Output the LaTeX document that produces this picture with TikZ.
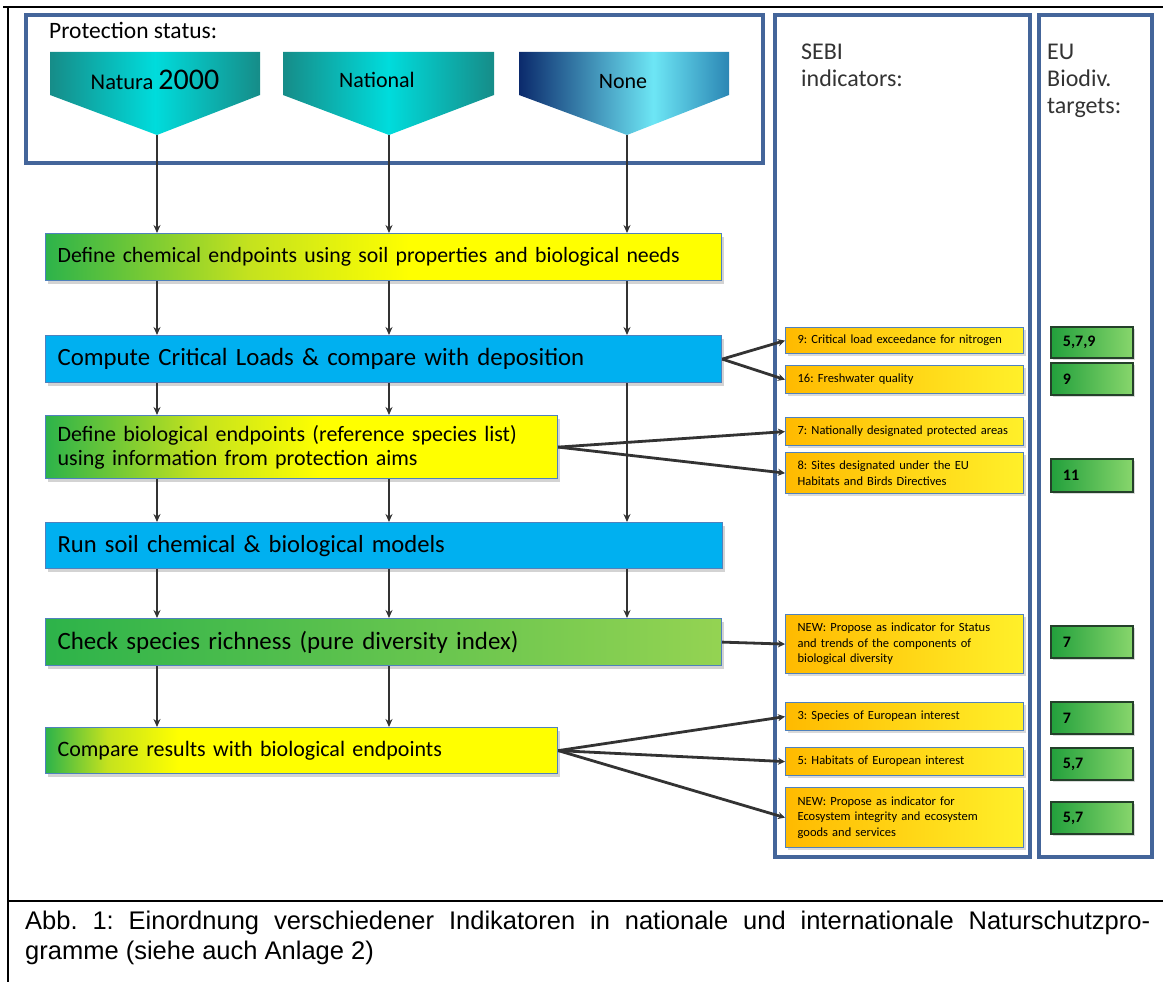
\documentclass[tikz,border=0pt]{standalone}
\usepackage{fontspec}
\setmainfont{Carlito}
\newfontfamily\capfont{Liberation Sans}
\usepackage{tikz}
\usetikzlibrary{calc,arrows.meta,shadows}
\frenchspacing

\definecolor{panelblue}{HTML}{44659A}
\definecolor{boxedge}{HTML}{4F81BD}
\definecolor{flowblue}{HTML}{00B0F0}
\definecolor{leafgreen}{HTML}{2DB34A}
\definecolor{limegreen}{HTML}{C4E21E}
\definecolor{palegreen}{HTML}{94D352}
\definecolor{linegray}{HTML}{333333}
\definecolor{goldleft}{HTML}{FFBA00}
\definecolor{goldright}{HTML}{FFF02A}
\definecolor{euleft}{HTML}{22A03C}
\definecolor{euright}{HTML}{88D66C}
\definecolor{euedge}{HTML}{24402A}
\definecolor{tealdark}{HTML}{168C88}
\definecolor{tealbright}{HTML}{00DCDC}
\definecolor{navyblue}{HTML}{0B2A6C}
\definecolor{skycyan}{HTML}{6DE6F5}
\definecolor{noneright}{HTML}{2B86B4}
\definecolor{headgray}{HTML}{333333}

\pgfdeclarehorizontalshading{gya}{100bp}{color(0bp)=(leafgreen); color(25bp)=(leafgreen); color(40bp)=(limegreen); color(52bp)=(yellow); color(100bp)=(yellow)}
\pgfdeclarehorizontalshading{gyb}{100bp}{color(0bp)=(leafgreen); color(25bp)=(leafgreen); color(31bp)=(limegreen); color(38bp)=(yellow); color(100bp)=(yellow)}
\pgfdeclarehorizontalshading{nonegrad}{100bp}{color(0bp)=(navyblue); color(25bp)=(navyblue); color(57bp)=(skycyan); color(75bp)=(noneright); color(100bp)=(noneright)}

\begin{document}
\begin{tikzpicture}[x=1pt,y=-1pt,
    panel/.style={draw=panelblue,line width=3.2pt},
    frameline/.style={draw=black,line width=1.8pt},
    flowbox/.style={draw=boxedge,line width=1.2pt,anchor=north west,inner xsep=12pt,align=left,
      drop shadow={shadow xshift=2.5pt,shadow yshift=-3pt,opacity=0.35}},
    sebibox/.style={draw=boxedge,line width=1.2pt,left color=goldleft,right color=goldright,
      anchor=north west,text width=214pt,inner xsep=12pt,align=left,
      font=\fontsize{12.5}{15.5}\selectfont,drop shadow={shadow xshift=2pt,shadow yshift=-2.5pt,opacity=0.3}},
    eubox/.style={draw=euedge,line width=1.8pt,left color=euleft,right color=euright,
      anchor=north west,text width=58pt,inner xsep=12pt,align=left,
      font=\bfseries\fontsize{16}{18}\selectfont,drop shadow={shadow xshift=2pt,shadow yshift=-2.5pt,opacity=0.3}},
    flow/.style={draw=linegray,line width=1.8pt,-{Stealth[length=8pt,width=7pt]}},
    link/.style={draw=linegray,line width=2.8pt,-{Stealth[length=7pt,width=7pt]}}]
  \useasboundingbox (0,0) rectangle (1166,982);

  % 外枠
  \draw[frameline] (3,7) -- (1163,7);
  \draw[frameline] (8,7) -- (8,982);
  \draw[frameline] (8,901) -- (1163,901);

  % 保護区分
  \draw[panel] (26,15) rectangle (763,163);
  \node[anchor=west,inner sep=0pt,font=\fontsize{23.5}{27}\selectfont] (prot) at (49,30) {Protection status:};
  \shade[left color=tealdark,right color=tealdark,middle color=tealbright]
    (50,52) -- (260,52) -- (260,95) -- (157,135) -- (50,95) -- cycle;
  \coordinate (tipa) at (157,135);
  \node[font=\fontsize{22.5}{26}\selectfont] (natura) at (155,80) {Natura {\fontsize{30}{32}\selectfont 2000}};
  \shade[left color=tealdark,right color=tealdark,middle color=tealbright]
    (283,52) -- (494,52) -- (494,95) -- (389,135) -- (283,95) -- cycle;
  \coordinate (tipb) at (389,135);
  \node[font=\fontsize{22}{26}\selectfont] (national) at (377,80) {National};
  \shade[shading=nonegrad]
    (519,52) -- (729,52) -- (729,95) -- (627,135) -- (519,95) -- cycle;
  \coordinate (tipc) at (627,135);
  \node[font=\fontsize{22}{26}\selectfont] (none) at (623,82) {None};

  % 手順
  \node[flowbox,shade,shading=gya,text width=652pt,minimum height=47pt,font=\fontsize{21.8}{25}\selectfont]
    (defchem) at (45,233) {Define chemical endpoints using soil properties and biological needs};
  \node[flowbox,fill=flowblue,text width=652pt,minimum height=47pt,font=\fontsize{24.8}{28}\selectfont]
    (compute) at (45,335) {Compute Critical Loads \& compare with deposition};
  \node[flowbox,shade,shading=gya,text width=488pt,minimum height=63pt,font=\fontsize{22}{24}\selectfont]
    (defbio) at (45,415) {Define biological endpoints (reference species list)\\using information from protection aims};
  \node[flowbox,fill=flowblue,text width=653pt,minimum height=46pt,font=\fontsize{24.6}{28}\selectfont]
    (runsoil) at (45,522) {Run soil chemical \& biological models};
  \node[flowbox,left color=leafgreen,right color=palegreen,text width=652pt,minimum height=47pt,font=\fontsize{24.9}{28}\selectfont]
    (check) at (45,618) {Check species richness (pure diversity index)};
  \node[flowbox,shade,shading=gyb,text width=488pt,minimum height=46pt,font=\fontsize{22}{25}\selectfont]
    (compare) at (45,727) {Compare results with biological endpoints};

  % 縦の矢印
  \draw[flow] (tipa) -- (tipa |- defchem.north);
  \draw[flow] (tipb) -- (tipb |- defchem.north);
  \draw[flow] (tipc) -- (tipc |- defchem.north);
  \draw[flow] (tipa |- defchem.south) -- (tipa |- compute.north);
  \draw[flow] (tipb |- defchem.south) -- (tipb |- compute.north);
  \draw[flow] (tipc |- defchem.south) -- (tipc |- compute.north);
  \draw[flow] (tipa |- compute.south) -- (tipa |- defbio.north);
  \draw[flow] (tipb |- compute.south) -- (tipb |- defbio.north);
  \draw[flow] (tipc |- compute.south) -- (tipc |- runsoil.north);
  \draw[flow] (tipa |- defbio.south) -- (tipa |- runsoil.north);
  \draw[flow] (tipb |- defbio.south) -- (tipb |- runsoil.north);
  \draw[flow] (tipa |- runsoil.south) -- (tipa |- check.north);
  \draw[flow] (tipb |- runsoil.south) -- (tipb |- check.north);
  \draw[flow] (tipc |- runsoil.south) -- (tipc |- check.north);
  \draw[flow] (tipa |- check.south) -- (tipa |- compare.north);
  \draw[flow] (tipb |- check.south) -- (tipb |- compare.north);

  % SEBI
  \draw[panel] (775,15) rectangle (1030,857);
  \node[anchor=north west,inner sep=0pt,align=left,text=headgray,font=\fontsize{24}{27}\selectfont]
    (sebihead) at (801,44) {SEBI\\indicators:};
  \node[sebibox,minimum height=26pt] (s9) at (785,327) {9: Critical load exceedance for nitrogen};
  \node[sebibox,minimum height=28pt] (s16) at (785,365) {16: Freshwater quality};
  \node[sebibox,minimum height=28pt] (s7) at (785,417) {7: Nationally designated protected areas};
  \node[sebibox,minimum height=41pt] (s8) at (785,452) {8: Sites designated under the EU\\Habitats and Birds Directives};
  \node[sebibox,minimum height=59pt] (snewa) at (785,614) {NEW: Propose as indicator for Status\\and trends of the components of\\biological diversity};
  \node[sebibox,minimum height=28pt] (s3) at (785,702) {3: Species of European interest};
  \node[sebibox,minimum height=28pt] (s5) at (785,747) {5: Habitats of European interest};
  \node[sebibox,minimum height=60pt] (snewb) at (785,787) {NEW: Propose as indicator for\\Ecosystem integrity and ecosystem\\goods and services};

  % EU
  \draw[panel] (1039,15) rectangle (1152,857);
  \node[anchor=north west,inner sep=0pt,align=left,text=headgray,font=\fontsize{24}{27}\selectfont]
    (euhead) at (1047,44) {EU\\Biodiv.\\targets:};
  \node[eubox,minimum height=31pt] (ea) at (1050,326) {5,7,9};
  \node[eubox,minimum height=32pt] (eb) at (1050,362) {9};
  \node[eubox,minimum height=33pt] (ec) at (1050,458) {11};
  \node[eubox,minimum height=32pt] (ed) at (1050,625) {7};
  \node[eubox,minimum height=32pt] (ee) at (1050,701) {7};
  \node[eubox,minimum height=32pt] (ef) at (1050,747) {5,7};
  \node[eubox,minimum height=32pt] (eg) at (1050,801) {5,7};

  % 指標への線
  \draw[link] (compute.east) -- (s9.west);
  \draw[link] (compute.east) -- (s16.west);
  \draw[link] (defbio.east) -- (s7.west);
  \draw[link] (defbio.east) -- (s8.west);
  \draw[link] (check.east) -- (snewa.west);
  \draw[link] (compare.east) -- (s3.west);
  \draw[link] (compare.east) -- (s5.west);
  \draw[link] (compare.east) -- (snewb.west);

  % 図の説明
  \node[anchor=base west,inner sep=0pt,font=\capfont\fontsize{25.5}{29}\selectfont] (capa) at (25,929)
    {\makebox[1125pt][s]{Abb. 1: Einordnung verschiedener Indikatoren in nationale und internationale Naturschutzpro-}};
  \node[anchor=base west,inner sep=0pt,font=\capfont\fontsize{25.5}{29}\selectfont] (capb) at (25,959)
    {gramme (siehe auch Anlage 2)};
\end{tikzpicture}
\end{document}
